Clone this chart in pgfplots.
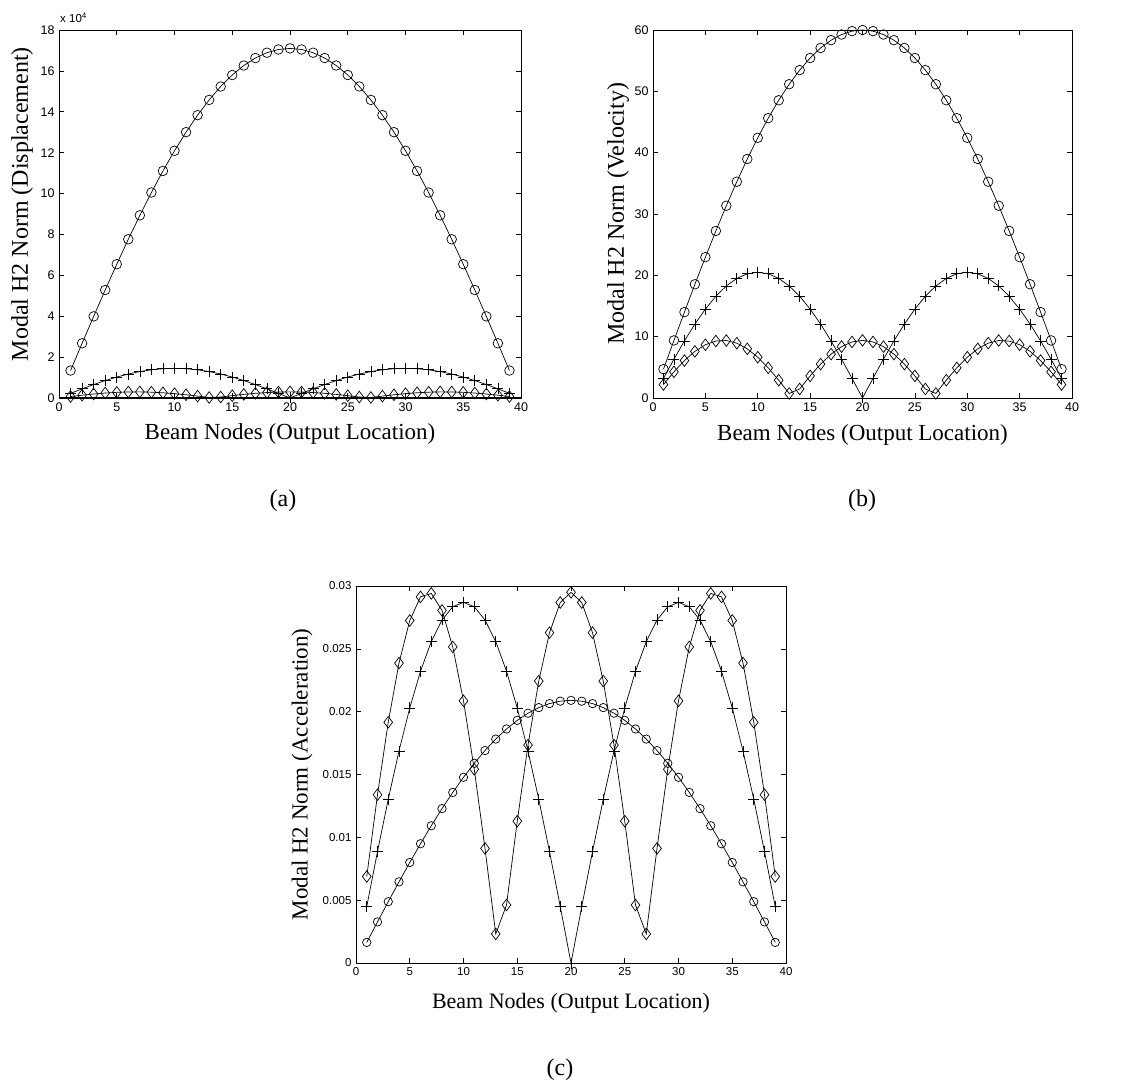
\documentclass[border=0pt]{standalone}
\usepackage{pgfplots}
\pgfplotsset{compat=1.18}
\usepackage{pgfplotstable}
\usepackage{fontspec}
\setmainfont{Liberation Serif}
\newfontfamily\arial{Liberation Sans}

% modal H2 norms per beam node: m1, m2, m3 = modes 1..3
\pgfplotstableread{
n m1 m2 m3
1 1.342 0.227 0.070
2 2.675 0.448 0.136
3 3.992 0.658 0.195
4 5.284 0.852 0.243
5 6.544 1.025 0.277
6 7.763 1.173 0.296
7 8.935 1.292 0.299
8 10.051 1.379 0.285
9 11.106 1.432 0.256
10 12.092 1.450 0.212
11 13.003 1.432 0.157
12 13.834 1.379 0.093
13 14.580 1.292 0.024
14 15.236 1.173 0.047
15 15.798 1.025 0.115
16 16.263 0.852 0.176
17 16.628 0.658 0.228
18 16.889 0.448 0.267
19 17.047 0.227 0.292
20 17.100 0.000 0.300
21 17.047 0.227 0.292
22 16.889 0.448 0.267
23 16.628 0.658 0.228
24 16.263 0.852 0.176
25 15.798 1.025 0.115
26 15.236 1.173 0.047
27 14.580 1.292 0.024
28 13.834 1.379 0.093
29 13.003 1.432 0.157
30 12.092 1.450 0.212
31 11.106 1.432 0.256
32 10.051 1.379 0.285
33 8.935 1.292 0.299
34 7.763 1.173 0.296
35 6.544 1.025 0.277
36 5.284 0.852 0.243
37 3.992 0.658 0.195
38 2.675 0.448 0.136
39 1.342 0.227 0.070
}\dispdata

\pgfplotstableread{
n m1 m2 m3
1 4.708 3.207 2.194
2 9.386 6.335 4.268
3 14.004 9.307 6.104
4 18.541 12.050 7.605
5 22.961 14.496 8.685
6 27.239 16.585 9.284
7 31.350 18.266 9.371
8 35.267 19.497 8.940
9 38.967 20.248 8.014
10 42.426 20.500 6.647
11 45.624 20.248 4.912
12 48.541 19.497 2.905
13 51.158 18.266 0.738
14 53.460 16.585 1.470
15 55.433 14.496 3.597
16 57.066 12.050 5.525
17 58.343 9.307 7.148
18 59.261 6.335 8.375
19 59.815 3.207 9.140
20 60.000 0.000 9.400
21 59.815 3.207 9.140
22 59.261 6.335 8.375
23 58.343 9.307 7.148
24 57.066 12.050 5.525
25 55.433 14.496 3.597
26 53.460 16.585 1.470
27 51.158 18.266 0.738
28 48.541 19.497 2.905
29 45.624 20.248 4.912
30 42.426 20.500 6.647
31 38.967 20.248 8.014
32 35.267 19.497 8.940
33 31.350 18.266 9.371
34 27.239 16.585 9.284
35 22.961 14.496 8.685
36 18.541 12.050 7.605
37 14.004 9.307 6.104
38 9.386 6.335 4.268
39 4.708 3.207 2.194
}\veldata

\pgfplotstableread{
n m1 m2 m3
1 0.001640 0.004489 0.006885
2 0.003269 0.008869 0.013393
3 0.004879 0.013030 0.019157
4 0.006459 0.016870 0.023866
5 0.007998 0.020294 0.027255
6 0.009489 0.023219 0.029134
7 0.010920 0.025572 0.029409
8 0.012285 0.027296 0.028057
9 0.013572 0.028347 0.025152
10 0.014779 0.028700 0.020860
11 0.015892 0.028347 0.015414
12 0.016908 0.027296 0.009116
13 0.017819 0.025572 0.002315
14 0.018622 0.023219 0.004614
15 0.019310 0.020294 0.011289
16 0.019878 0.016870 0.017340
17 0.020323 0.013030 0.022432
18 0.020643 0.008869 0.026285
19 0.020835 0.004489 0.028686
20 0.020900 0.000000 0.029500
21 0.020835 0.004489 0.028686
22 0.020643 0.008869 0.026285
23 0.020323 0.013030 0.022432
24 0.019878 0.016870 0.017340
25 0.019310 0.020294 0.011289
26 0.018622 0.023219 0.004614
27 0.017819 0.025572 0.002315
28 0.016908 0.027296 0.009116
29 0.015892 0.028347 0.015414
30 0.014779 0.028700 0.020860
31 0.013572 0.028347 0.025152
32 0.012285 0.027296 0.028057
33 0.010920 0.025572 0.029409
34 0.009489 0.023219 0.029134
35 0.007998 0.020294 0.027255
36 0.006459 0.016870 0.023866
37 0.004879 0.013030 0.019157
38 0.003269 0.008869 0.013393
39 0.001640 0.004489 0.006885
}\accdata

\pgfplotsset{
  beam/.style={
    scale only axis, anchor=south west,
    xmin=0, xmax=40, xtick={0,5,...,40},
    tick align=inside, major tick length=5pt,
    axis line style={line width=0.8pt},
    every tick/.style={black, line width=0.6pt},
    tick label style={font=\arial\fontsize{12.5}{13}\selectfont},
    /pgf/number format/assume math mode=true,
    xticklabel style={yshift=-1pt},
    yticklabel style={xshift=-1pt},
    xlabel={Beam Nodes (Output Location)},
    label style={font=\fontsize{23}{24}\selectfont},
    clip=false,
  },
  m1/.style={black, line width=0.7pt, mark=o, mark size=4.8pt, mark options={line width=0.7pt}},
  m2/.style={black, line width=0.7pt, mark=+, mark size=5.5pt, mark options={line width=0.7pt}},
  m3/.style={black, line width=0.7pt, mark=diamond, mark size=5.8pt, mark options={line width=0.7pt}},
}

\begin{document}
\begin{tikzpicture}
\useasboundingbox (0pt,0pt) rectangle (1134pt,1090pt);

% (a) displacement
\begin{axis}[beam, at={(59pt,692pt)}, width=462pt, height=368pt,
  ymin=0, ymax=18, ytick={0,2,...,18},
  xlabel style={at={(axis description cs:0.5,0)}, anchor=base, yshift=-42pt},
  ylabel={Modal H2 Norm (Displacement)},
  ylabel style={at={(axis description cs:-0.080,0.527)}, anchor=center, font=\fontsize{24}{25}\selectfont},
]
\addplot[black, line width=1.6pt] coordinates {(0,0.03) (40,0.03)};
\addplot[m1] table[x=n, y=m1] {\dispdata};
\addplot[m2] table[x=n, y=m2] {\dispdata};
\addplot[m3] table[x=n, y=m3] {\dispdata};
\node[anchor=base west, font=\arial\fontsize{11.5}{12}\selectfont, inner sep=0pt, yshift=7pt, xshift=1pt]
  at (rel axis cs:0,1) {x 10\textsuperscript{4}};
\end{axis}

% (b) velocity
\begin{axis}[beam, at={(653pt,692pt)}, width=419pt, height=368pt,
  ymin=0, ymax=60, ytick={0,10,...,60},
  xlabel style={at={(axis description cs:0.5,0)}, anchor=base, yshift=-43pt},
  ylabel={Modal H2 Norm (Velocity)},
  ylabel style={at={(axis description cs:-0.0835,0.5)}, anchor=center, font=\fontsize{24}{25}\selectfont},
]
\addplot[m1] table[x=n, y=m1] {\veldata};
\addplot[m2] table[x=n, y=m2] {\veldata};
\addplot[m3] table[x=n, y=m3] {\veldata};
\end{axis}

% (c) acceleration
\begin{axis}[beam, at={(356pt,127pt)}, width=430pt, height=377pt,
  ymin=0, ymax=0.03, ytick={0,0.005,...,0.03},
  scaled y ticks=false,
  yticklabel style={/pgf/number format/fixed, /pgf/number format/precision=3},
  tick label style={font=\arial\fontsize{11.5}{12}\selectfont},
  xlabel style={at={(axis description cs:0.5,0)}, anchor=base, yshift=-45pt, font=\fontsize{22}{23}\selectfont},
  ylabel={Modal H2 Norm (Acceleration)},
  ylabel style={at={(axis description cs:-0.1256,0.5)}, anchor=center, font=\fontsize{23}{24}\selectfont},
  m1/.append style={mark size=4.2pt},
]
\addplot[m1] table[x=n, y=m1] {\accdata};
\addplot[m2] table[x=n, y=m2] {\accdata};
\addplot[m3] table[x=n, y=m3] {\accdata};
\end{axis}

\node[font=\fontsize{24}{25}\selectfont] at (283pt,589pt) {(a)};
\node[font=\fontsize{24}{25}\selectfont] at (862pt,589pt) {(b)};
\node[font=\fontsize{24}{25}\selectfont] at (560pt,20pt) {(c)};
\end{tikzpicture}
\end{document}
